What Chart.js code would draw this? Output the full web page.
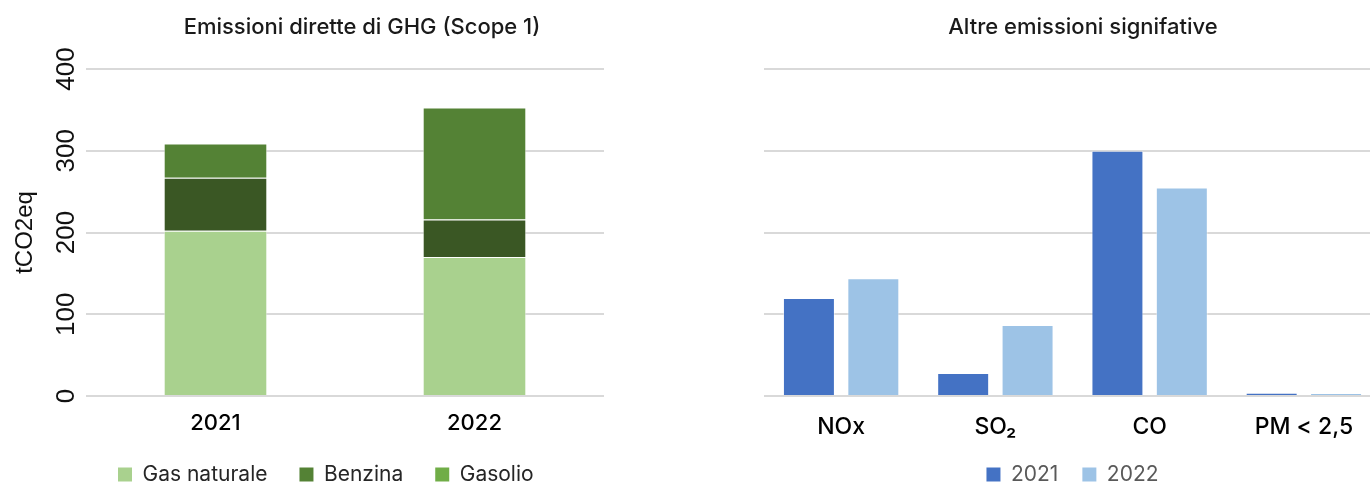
<!DOCTYPE html>
<html>
<head>
<meta charset="utf-8">
<script src="https://cdn.jsdelivr.net/npm/chart.js@4.4.0/dist/chart.umd.min.js"></script>
<style>
    html, body { margin: 0; padding: 0; background: #fff; overflow: hidden; width: 1370px; height: 485px; }
    canvas { position: absolute; top: 0; }
    #ghg-chart { left: 0; }
    #other-chart { left: 760px; }
</style>
</head>
<body>
<canvas id="ghg-chart" width="724" height="495"></canvas>
<canvas id="other-chart" width="646" height="495"></canvas>
<script>
// left chart: direct GHG emissions, stacked by fuel
const YEARS = ["2021", "2022"];
const GAS_NATURALE = [202, 170];
const BENZINA = [65, 46];
const GASOLIO = [42, 137];
const FUEL_LABELS = ["Gas naturale", "Benzina", "Gasolio"];
const FUEL_COLORS = ["#A9D18E", "#3A5724", "#548235"];
// the legend boxes use other greens than the bars in the original
const FUEL_LEGEND_COLORS = ["#A9D18E", "#548235", "#70AD47"];

// right chart: other significant emissions
const POLLUTANTS = ["NOx", "SO\u2082", "CO", "PM < 2,5"];
const EMISSIONS_2021 = [120, 28, 300, 4];
const EMISSIONS_2022 = [144, 87, 255, 3.5];
const YEAR_COLORS = ["#4472C4", "#9DC3E6"];

const Y_TICKS = [0, 100, 200, 300, 400];

const GRID_COLOR = "#D9D9D9";
const MAIN_FONT = "Inter";


function fixWidth(w) {
    return function (scale) { scale.width = w; };
}

function fixHeight(h) {
    return function (scale) { scale.height = h; };
}


function titleOptions(text) {
    return {
        display: true,
        text: text,
        color: "#1a1a1a",
        font: { family: MAIN_FONT, size: 22, weight: "500", lineHeight: 1.2 },
        padding: { top: 14, bottom: 28.6 }
    };
}


// the legend padding also sets how far the items sit below the axis labels
function legendOptions(textColor, boxColors, align, pad) {
    return {
        display: true,
        position: "bottom",
        fullSize: false,
        align: align,
        labels: {
            color: textColor,
            boxWidth: 14,
            boxHeight: 14,
            padding: pad,
            font: { family: MAIN_FONT, size: 21 },
            generateLabels: function (chart) {
                var items = Chart.defaults.plugins.legend.labels.generateLabels(chart);
                items.forEach((item, i) => {
                    item.fillStyle = boxColors[i];
                    item.strokeStyle = boxColors[i];
                    item.lineWidth = 0;
                });
                return items;
            }
        }
    };
}


// labels are clipped to the axis box, so it has to hold them entirely
function xAxisOptions(fontSize, pad, height) {
    return {
        grid: { display: false, drawTicks: false },
        border: { display: false },
        ticks: {
            color: "#000",
            padding: pad,
            font: { family: MAIN_FONT, size: fontSize, weight: "500" }
        },
        afterFit: fixHeight(height)
    };
}


function yGrid() {
    return { color: GRID_COLOR, lineWidth: 2, drawTicks: false };
}


function spacerAxis(w) {
    // empty axis on the right, only here so the title is centred like the original
    return {
        type: "linear",
        axis: "y",
        position: "right",
        grid: { display: false },
        border: { display: false },
        ticks: { display: false },
        afterFit: fixWidth(w)
    };
}


function setTicks(scale) {
    scale.ticks = Y_TICKS.map(v => ({ value: v }));
}


function initGhgChart() {
    var values = [GAS_NATURALE, BENZINA, GASOLIO];
    var datasets = [];
    for (var i = 0; i < values.length; i++) {
        datasets.push({
            label: FUEL_LABELS[i],
            data: values[i],
            backgroundColor: FUEL_COLORS[i],
            borderColor: "rgba(255,255,255,0.55)",
            borderWidth: 1,
            categoryPercentage: 0.8,
            barPercentage: 0.5
        });
    }

    new Chart(document.getElementById("ghg-chart"), {
        type: "bar",
        data: { labels: YEARS, datasets: datasets },
        options: {
            responsive: false,
            animation: false,
            layout: { padding: 0 },
            plugins: {
                title: titleOptions("Emissioni dirette di GHG (Scope 1)"),
                legend: legendOptions("#262626", FUEL_LEGEND_COLORS, "start", 32),
                tooltip: { enabled: false }
            },
            scales: {
                x: Object.assign(xAxisOptions(22, 14, 36), { stacked: true }),
                y: {
                    stacked: true,
                    min: 0,
                    max: 400,
                    afterBuildTicks: setTicks,
                    grid: yGrid(),
                    border: { display: false },
                    ticks: {
                        color: "#111",
                        minRotation: 90,
                        maxRotation: 90,
                        crossAlign: "center",
                        padding: -3,
                        font: { family: "Liberation Sans", size: 26 }
                    },
                    title: {
                        display: true,
                        text: "tCO2eq",
                        color: "#111",
                        font: { family: "Liberation Sans", size: 24 },
                        padding: { top: 11, bottom: 0 }
                    },
                    afterFit: fixWidth(86)
                },
                ys: spacerAxis(120)
            }
        }
    });
}


function initOtherChart() {
    var values = [EMISSIONS_2021, EMISSIONS_2022];
    var datasets = [];
    for (var i = 0; i < values.length; i++) {
        datasets.push({
            label: YEARS[i],
            data: values[i],
            backgroundColor: YEAR_COLORS[i],
            borderColor: "rgba(255,255,255,0.45)",
            borderWidth: 1,
            categoryPercentage: 0.835,
            barPercentage: 0.807
        });
    }

    new Chart(document.getElementById("other-chart"), {
        type: "bar",
        data: { labels: POLLUTANTS, datasets: datasets },
        options: {
            responsive: false,
            animation: false,
            layout: { padding: 0 },
            plugins: {
                title: titleOptions("Altre emissioni signifative"),
                legend: legendOptions("#595959", YEAR_COLORS, "center", 24),
                tooltip: { enabled: false }
            },
            scales: {
                x: xAxisOptions(23, 17, 44),
                y: {
                    min: 0,
                    max: 400,
                    afterBuildTicks: setTicks,
                    grid: yGrid(),
                    border: { display: false },
                    ticks: { display: false },
                    afterFit: fixWidth(4)
                },
                ys: spacerAxis(25)
            }
        }
    });
}


initGhgChart();
initOtherChart();
</script>
</body>
</html>
